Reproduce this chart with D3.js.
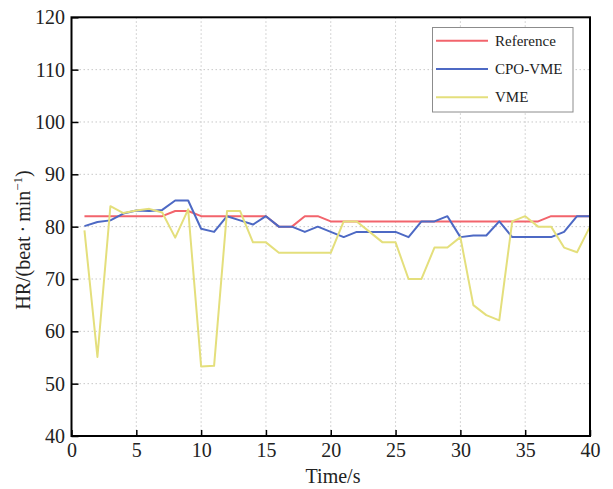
<!DOCTYPE html>
<html>
<head>
<meta charset="utf-8">
<script src="https://cdn.jsdelivr.net/npm/d3@7"></script>
<style>
  body { margin: 0; background: #fff; }
  text { font-family: "Liberation Serif", "Times New Roman", serif; }
</style>
</head>
<body>
<script>
const WIDTH = 613
const HEIGHT = 489

// data, t = 1..40 s
const times = d3.range(1, 41)
const reference = [82, 82, 82, 82, 82, 82, 82, 83, 83, 82,
                   82, 82, 82, 82, 82, 80, 80, 82, 82, 81,
                   81, 81, 81, 81, 81, 81, 81, 81, 81, 81,
                   81, 81, 81, 81, 81, 81, 82, 82, 82, 82]
const cpoVme = [80.1, 80.9, 81.2, 82.5, 83.1, 83, 83.2, 85, 85, 79.6,
                79, 82, 81.2, 80.4, 82, 80, 80, 79, 80, 79,
                78, 79, 79, 79, 79, 78, 81, 81, 82, 78,
                78.3, 78.3, 81, 78, 78, 78, 78, 79, 82, 82]
const vme = [79.3, 55.1, 83.9, 82.6, 83.1, 83.4, 82.7, 77.9, 83.3, 53.3,
             53.4, 83, 83, 77, 77, 75, 75, 75, 75, 75,
             81, 81, 79, 77, 77, 70, 70, 76, 76, 78,
             65, 63.1, 62.1, 81, 82, 80, 80, 76, 75.1, 80]

const seriesNames = ["Reference", "CPO-VME", "VME"]
const seriesColors = ["#f2646c", "#4d69c4", "#e4df7c"]
const xTicks = [0, 5, 10, 15, 20, 25, 30, 35, 40]
const yTicks = [40, 50, 60, 70, 80, 90, 100, 110, 120]

const mLeft = 71.5, mRight = 590, mTop = 17.3, mBottom = 436

const svg = d3.select("body").append("svg")
    .attr("width", WIDTH)
    .attr("height", HEIGHT)

const x = d3.scaleLinear().domain([0, 40]).range([mLeft, mRight])
const y = d3.scaleLinear().domain([40, 120]).range([mBottom, mTop])

// grid
svg.append("g").selectAll("line")
  .data(xTicks.slice(1, -1))
  .enter().append("line")
  .attr("x1", d => x(d)).attr("x2", d => x(d))
  .attr("y1", mTop).attr("y2", mBottom)
  .attr("stroke", "#c8c8c8").attr("stroke-width", 1)
  .attr("stroke-dasharray", "1.5,2.5")

svg.append("g").selectAll("line")
  .data(yTicks.slice(1, -1))
  .enter().append("line")
  .attr("x1", mLeft).attr("x2", mRight)
  .attr("y1", d => y(d)).attr("y2", d => y(d))
  .attr("stroke", "#c8c8c8").attr("stroke-width", 1)
  .attr("stroke-dasharray", "1.5,2.5")

// lines
const line = d3.line().x((d, i) => x(times[i])).y(d => y(d))
const allSeries = [reference, cpoVme, vme]

svg.append("g").selectAll("path")
  .data(allSeries)
  .enter().append("path")
  .attr("d", d => line(d))
  .attr("fill", "none")
  .attr("stroke", (d, i) => seriesColors[i])
  .attr("stroke-width", 2)
  .attr("stroke-linejoin", "round")

// axes (ticks inward)
const xAxis = d3.axisBottom(x).tickValues(xTicks).tickSize(-6).tickPadding(7)
const yAxis = d3.axisLeft(y).tickValues(yTicks).tickSize(-7).tickPadding(6.5)

const gx = svg.append("g").attr("transform", `translate(0,${mBottom})`).call(xAxis)
const gy = svg.append("g").attr("transform", `translate(${mLeft},0)`).call(yAxis)

gx.select(".domain").remove()
gy.select(".domain").remove()
gx.selectAll(".tick line").attr("stroke", "#000").attr("stroke-width", 1.5)
gy.selectAll(".tick line").attr("stroke", "#000").attr("stroke-width", 1.5)
gx.selectAll(".tick text").attr("font-size", 20).attr("fill", "#222")
  .attr("font-family", "Liberation Serif, serif")
gy.selectAll(".tick text").attr("font-size", 20).attr("fill", "#222")
  .attr("font-family", "Liberation Serif, serif")

// frame
svg.append("rect")
  .attr("x", mLeft).attr("y", mTop)
  .attr("width", mRight - mLeft).attr("height", mBottom - mTop)
  .attr("fill", "none").attr("stroke", "#000").attr("stroke-width", 2)

// axis titles
svg.append("text")
  .attr("x", 333).attr("y", 483)
  .attr("text-anchor", "middle").attr("font-size", 20).attr("fill", "#222")
  .text("Time/s")

const yt = svg.append("text")
  .attr("transform", `translate(30,240) rotate(-90)`)
  .attr("text-anchor", "middle").attr("font-size", 20).attr("fill", "#222")
yt.append("tspan").text("HR/(beat\u2009\u00b7\u2009min")
yt.append("tspan").attr("dy", -8).attr("font-size", 13).text("\u22121")
yt.append("tspan").attr("dy", 8).text(")")

// legend
const legend = svg.append("g")
legend.append("rect")
  .attr("x", 432.5).attr("y", 27.5).attr("width", 140.5).attr("height", 84.5)
  .attr("fill", "#fff").attr("stroke", "#8c8c8c").attr("stroke-width", 1)

const items = legend.selectAll("g.item")
  .data(seriesNames)
  .enter().append("g")
  .attr("transform", (d, i) => `translate(0,${40.7 + i * 28.3})`)

items.append("line")
  .attr("x1", 436).attr("x2", 488)
  .attr("stroke", (d, i) => seriesColors[i]).attr("stroke-width", 2)

items.append("text")
  .attr("x", 495).attr("y", 5)
  .attr("font-size", 15).attr("fill", "#222")
  .text(d => d)
</script>
</body>
</html>
